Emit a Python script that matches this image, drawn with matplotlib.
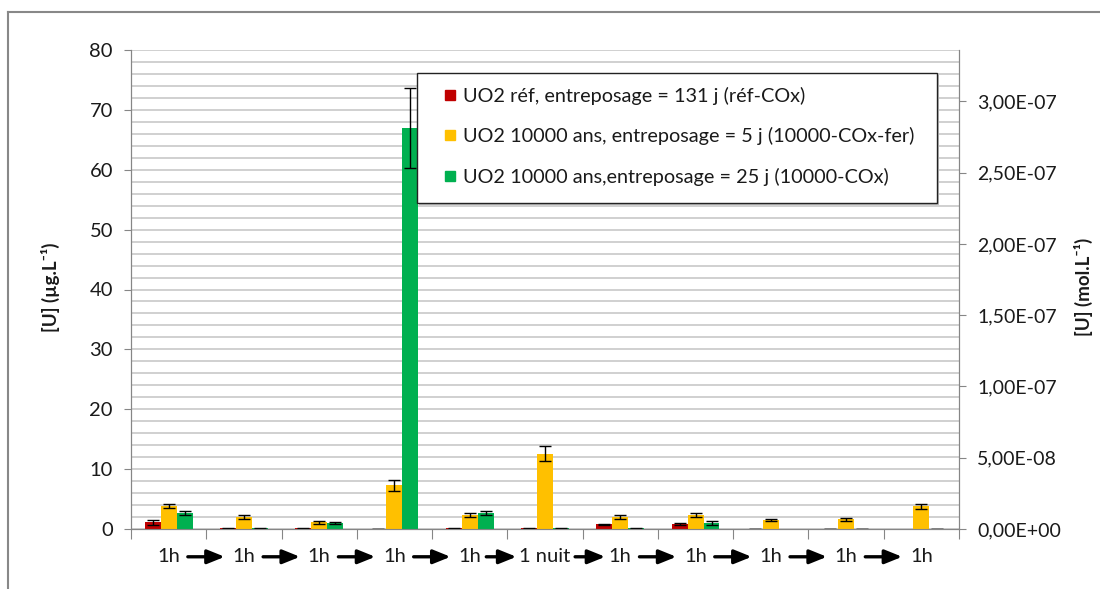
import numpy as np
import matplotlib.pyplot as plt
from matplotlib.lines import Line2D
from matplotlib.patches import Rectangle
from matplotlib.ticker import FuncFormatter, MultipleLocator
import matplotlib.transforms as mtransforms

plt.rcParams['font.family'] = ['Lato', 'DejaVu Sans']

# durations between successive sampling steps
steps = ["1h", "1h", "1h", "1h", "1h", "1 nuit", "1h", "1h", "1h", "1h", "1h"]

series = [
    "UO2 réf, entreposage = 131 j (réf-COx)",
    "UO2 10000 ans, entreposage = 5 j (10000-COx-fer)",
    "UO2 10000 ans,entreposage = 25 j (10000-COx)",
]
colors = ["#C00000", "#FFC000", "#00B050"]

# [U] in µg/L
ref_cox = [1.1, 0.12, 0.12, 0.04, 0.12, 0.12, 0.8, 0.8, 0.04, 0.04, np.nan]
ref_cox_err = [0.35, 0.05, 0.05, 0.02, 0.05, 0.05, 0.1, 0.15, 0.02, 0.02, np.nan]
cox_fer = [3.8, 2.0, 1.15, 7.3, 2.3, 12.6, 2.0, 2.3, 1.5, 1.6, 3.8]
cox_fer_err = [0.35, 0.3, 0.25, 0.9, 0.3, 1.3, 0.3, 0.3, 0.2, 0.2, 0.4]
cox = [2.7, 0.12, 1.0, 67.0, 2.7, 0.12, 0.12, 1.0, np.nan, 0.04, 0.04]
cox_err = [0.35, 0.05, 0.1, 6.7, 0.35, 0.05, 0.05, 0.3, np.nan, 0.02, 0.02]

values = [ref_cox, cox_fer, cox]
errors = [ref_cox_err, cox_fer_err, cox_err]

M_U = 238.03  # g/mol
YMAX = 80
TXT = '#1a1a1a'

fig = plt.figure(figsize=(11, 5.89), dpi=100)
ax = fig.add_axes([131 / 1100, 60 / 589, 828 / 1100, 479 / 589])

x = np.arange(len(steps))
w = 0.212
for k, (vals, errs, col, lab) in enumerate(zip(values, errors, colors, series)):
    pos = x + (k - 1) * w
    ax.bar(pos, vals, width=w, color=col, label=lab, zorder=3)
    ax.errorbar(pos, vals, yerr=errs, fmt='none', ecolor='black',
                elinewidth=1, capsize=4, capthick=1, zorder=4)

ax.set_xlim(-0.5, len(steps) - 0.5)
ax.set_ylim(0, YMAX)
ax.yaxis.set_major_locator(MultipleLocator(10))
ax.yaxis.set_minor_locator(MultipleLocator(2))
ax.grid(axis='y', which='both', color='#D0D0D0', lw=1.4, zorder=0)
ax.set_axisbelow(True)

ax.set_xticks(np.arange(len(steps) + 1) - 0.5)
ax.set_xticklabels([])
ax.tick_params(axis='x', length=7, color='#868686', direction='out')
ax.tick_params(axis='y', which='major', length=5, color='#868686',
               labelsize=14.5, labelcolor=TXT, pad=8)
ax.tick_params(axis='y', which='minor', length=0)

for s in ['left', 'right', 'bottom']:
    ax.spines[s].set_color('#868686')
ax.spines['top'].set_visible(False)

ax.set_ylabel("[U] (µg.L⁻¹)", fontsize=13.5, fontweight='bold', color=TXT)
ax.yaxis.label.set_va('center')
ax.yaxis.set_label_coords(-0.0978, 0.505)

# second axis in mol/L
ax2 = ax.twinx()
ax2.set_ylim(0, YMAX / M_U * 1e-6)
ax2.set_yticks(np.arange(0, 3.01e-7, 5e-8))
ax2.yaxis.set_major_formatter(FuncFormatter(lambda v, p: "{:.2E}".format(v).replace('.', ',')))
ax2.tick_params(axis='y', length=5, color='#868686', labelsize=14,
                labelcolor=TXT, pad=8)
for s in ['left', 'right', 'bottom']:
    ax2.spines[s].set_color('#868686')
ax2.spines['top'].set_visible(False)
ax2.set_ylabel("[U] (mol.L⁻¹)", fontsize=13.5, fontweight='bold', color=TXT)
ax2.yaxis.label.set_va('center')
ax2.yaxis.set_label_coords(1.1498, 0.505)

# step labels with arrows between them
trans = mtransforms.blended_transform_factory(ax.transData, ax.transAxes)
ylab = -0.058
for i, s in enumerate(steps):
    ax.text(i, ylab, s, transform=trans, ha='center', va='center',
            fontsize=14.5, color=TXT)
for b in np.arange(len(steps) - 1) + 0.5:
    left, right = steps[int(b - 0.5)], steps[int(b + 0.5)]
    half, shift = 0.245, 0.0
    if len(right) > 2:
        half, shift = 0.2, -0.08
    elif len(left) > 2:
        half, shift = 0.2, 0.1
    c = b + shift
    ax.annotate('', xy=(c + half, ylab), xytext=(c - half, ylab),
                xycoords=trans, textcoords=trans, annotation_clip=False,
                arrowprops=dict(arrowstyle='-|>,head_length=0.52,head_width=0.21',
                                lw=2.4, color='black',
                                mutation_scale=20, shrinkA=0, shrinkB=0))

# legend box drawn as its own patch, with a soft shadow
lx0, ly0, lw_, lh_ = (417 - 131) / 828, (529 - 203) / 479, 520 / 828, 130 / 479
shadow = Rectangle((lx0, ly0), lw_, lh_, facecolor='#BDBDBD', edgecolor='none', zorder=8)
shadow.set_transform(ax2.transAxes + mtransforms.ScaledTranslation(2 / 100, -2 / 100, fig.dpi_scale_trans))
ax2.add_patch(shadow)
ax2.add_patch(Rectangle((lx0, ly0), lw_, lh_, transform=ax2.transAxes, facecolor='white',
                        edgecolor='#222222', lw=1, zorder=9))

handles = [Line2D([], [], marker='s', ls='none', markersize=7.5, color=c) for c in colors]
leg = ax2.legend(handles, series, loc='upper left',
                 bbox_to_anchor=((444 - 131) / 828, (529 - 87) / 479),
                 fontsize=14.3, frameon=False, labelspacing=1.12,
                 handlelength=0.6, handletextpad=0.35, borderpad=0,
                 borderaxespad=0)
leg.set_zorder(10)
for t in leg.get_texts():
    t.set_color(TXT)

# outer chart frame
fig.add_artist(Line2D([8 / 1100, 8 / 1100], [0, 1 - 12 / 589], color='#888888', lw=1.5))
fig.add_artist(Line2D([8 / 1100, 1], [1 - 12 / 589, 1 - 12 / 589], color='#888888', lw=1.5))

fig.savefig("out.png", dpi=100)
